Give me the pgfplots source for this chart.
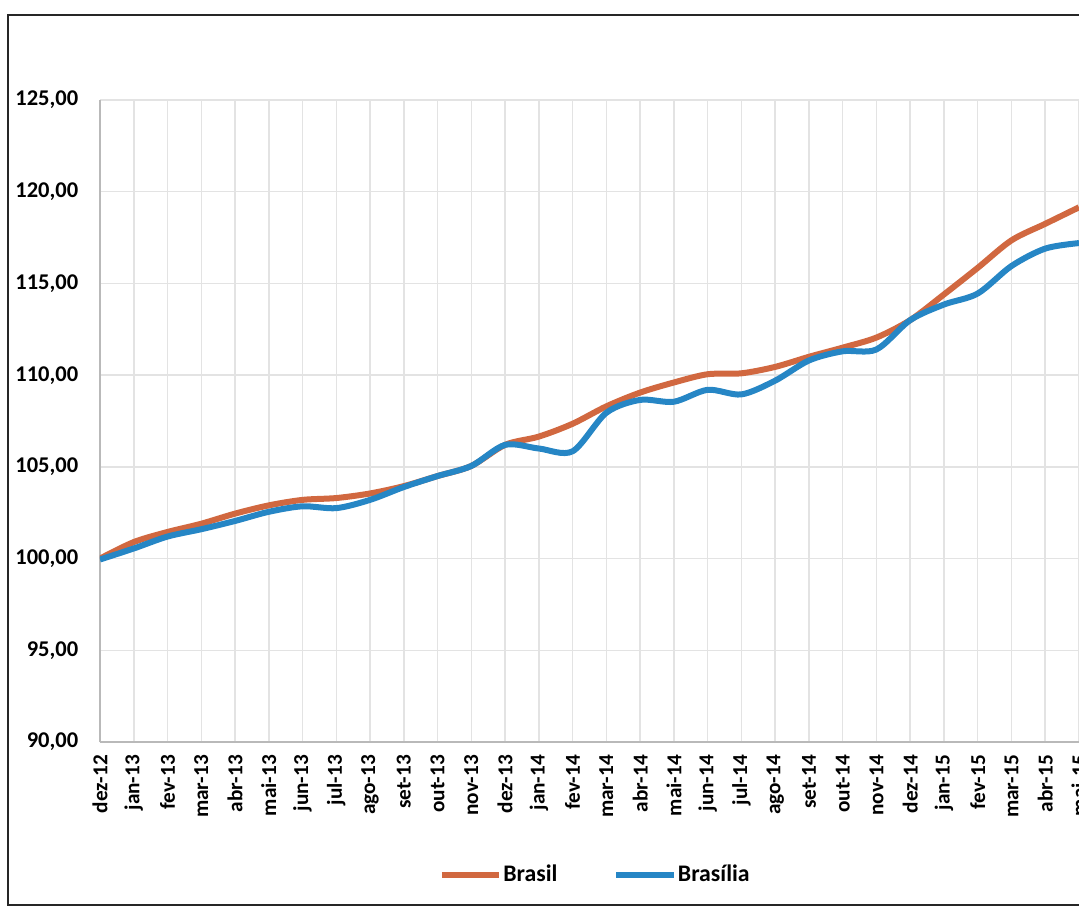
\documentclass[border=0pt]{standalone}
\usepackage{fontspec}
\setmainfont{Carlito}
\usepackage{pgfplots}
\usepackage{pgfplotstable}
\pgfplotsset{compat=1.18}
\definecolor{cbrasil}{RGB}{209,104,64}
\definecolor{cbsb}{RGB}{38,134,197}
\pgfplotstableread{
x brasil brasilia
0 100.00 99.95
1 100.90 100.55
2 101.45 101.20
3 101.90 101.60
4 102.45 102.05
5 102.90 102.55
6 103.20 102.85
7 103.30 102.75
8 103.55 103.20
9 103.95 103.90
10 104.50 104.50
11 105.05 105.05
12 106.20 106.20
13 106.65 106.00
14 107.35 105.85
15 108.30 107.95
16 109.05 108.65
17 109.60 108.55
18 110.05 109.20
19 110.10 108.95
20 110.45 109.70
21 111.00 110.80
22 111.50 111.30
23 112.05 111.40
24 113.00 113.00
25 114.40 113.85
26 115.85 114.45
27 117.35 115.95
28 118.25 116.90
29 119.15 117.20
}\datatable
\begin{document}
\begin{tikzpicture}
\begin{axis}[
  at={(0,0)}, anchor=south west,
  scale only axis, width=391.6pt, height=256.8pt,
  xmin=0, xmax=29, ymin=90, ymax=125,
  xtick={0,...,29},
  xticklabels={dez-12,jan-13,fev-13,mar-13,abr-13,mai-13,jun-13,jul-13,ago-13,set-13,out-13,nov-13,dez-13,jan-14,fev-14,mar-14,abr-14,mai-14,jun-14,jul-14,ago-14,set-14,out-14,nov-14,dez-14,jan-15,fev-15,mar-15,abr-15,mai-15},
  ytick={90,95,...,125},
  grid=major,
  major grid style={gray!22, line width=0.6pt},
  axis lines*=left,
  axis line style={gray!55, line width=0.8pt, -},
  major tick length=0pt,
  xticklabel style={rotate=90, anchor=east, inner sep=0pt, font=\bfseries\fontsize{8.5}{9}\selectfont},
  xticklabel shift=5pt,
  yticklabel style={anchor=east, inner sep=0pt, font=\bfseries\fontsize{9}{10}\selectfont,
    /pgf/number format/.cd, fixed, fixed zerofill, precision=2, use comma, 1000 sep={}, assume math mode=true},
  yticklabel shift=8.5pt,
  legend columns=2,
  legend style={at={(0.5056,-0.2072)}, anchor=center, draw=none, fill=none,
    font=\bfseries\fontsize{9.5}{10}\selectfont,
    nodes={inner sep=0.5pt},
    /tikz/every even column/.append style={column sep=22pt}},
  legend image code/.code={\draw[line width=2.2pt] (0pt,0pt) -- (23pt,0pt);},
]
\addplot[cbrasil, line width=2.4pt, smooth] table[x=x, y=brasil] {\datatable};
\addlegendentry{Brasil}
\addplot[cbsb, line width=2.4pt, smooth] table[x=x, y=brasilia] {\datatable};
\addlegendentry{Brasília}
\end{axis}
\draw[line width=0.8pt, black!85] (-36.8pt,-65.2pt) rectangle (430pt,290.8pt);
\pgfresetboundingbox
\path (-40pt,-67.6pt) rectangle (391.6pt,296.8pt);
\end{tikzpicture}
\end{document}
